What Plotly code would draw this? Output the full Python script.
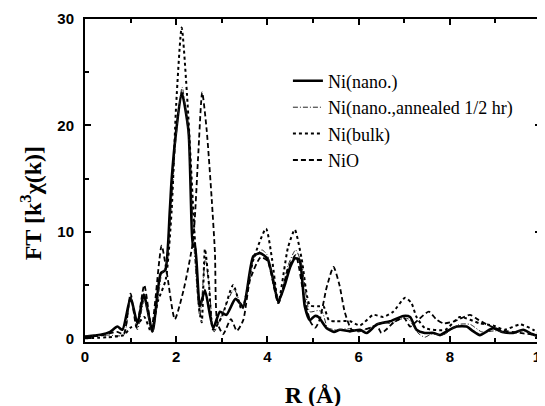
import plotly.graph_objects as go

# ---- data ----
nano_x = [0, 0.2, 0.34, 0.55, 0.71, 0.82, 1.0, 1.15, 1.29, 1.48, 1.66, 1.76, 1.86, 1.9, 2.0, 2.12,
          2.27, 2.37, 2.41, 2.52, 2.63, 2.81, 2.96, 3.1, 3.3, 3.47, 3.69, 3.84, 4.0, 4.1, 4.24,
          4.38, 4.5, 4.6, 4.7, 4.82, 4.93, 5.04, 5.12, 5.3, 5.46, 5.59, 5.81, 6.03, 6.18, 6.4,
          6.69, 6.98, 7.13, 7.27, 7.45, 7.64, 7.79, 7.93, 8.15, 8.37, 8.5, 8.66, 8.95, 9.15,
          9.39, 9.61, 9.8, 9.94, 10]
nano_y = [0.15, 0.25, 0.33, 0.6, 1.1, 0.8, 3.8, 1.4, 4.1, 0.65, 6.1, 6.4, 12.0, 14.9, 19.5, 23.1,
          19.5, 8.6, 8.9, 3.0, 4.5, 0.95, 2.5, 2.2, 3.7, 3.0, 7.7, 8.0, 7.5, 6.0, 3.45,
          5.0, 6.7, 7.5, 7.4, 3.0, 1.7, 2.1, 2.0, 0.95, 0.6, 0.8, 0.65, 0.8, 0.5, 1.3,
          1.6, 2.1, 2.0, 0.8, 0.5, 0.5, 0.3, 0.65, 1.1, 1.1, 0.7, 0.3, 0.95, 0.6,
          0.5, 0.8, 0.4, 0.2, 0.15]

anneal_x = [0, 0.5, 0.85, 1.0, 1.15, 1.3, 1.48, 1.68, 1.78, 1.9, 2.0, 2.13, 2.27, 2.4, 2.52,
            2.64, 2.72, 2.83, 3.0, 3.27, 3.45, 3.7, 3.88, 4.0, 4.24, 4.45, 4.62, 4.75, 4.93,
            5.1, 5.2, 5.32, 5.5, 5.8, 6.0, 6.3, 6.5, 6.7, 7.0, 7.1, 7.3, 7.45, 7.6, 7.85,
            8.2, 8.45, 8.7, 9.0, 9.3, 9.6, 9.85, 10]
anneal_y = [0.2, 0.3, 0.3, 4.0, 0.8, 3.6, 0.5, 6.0, 6.8, 13.0, 19.0, 23.6, 19.0, 8.0, 2.0,
            7.5, 5.0, 0.6, 2.2, 4.6, 2.9, 7.5, 8.3, 7.8, 3.2, 6.8, 8.3, 7.0, 2.5,
            2.6, 2.5, 1.0, 0.8, 0.9, 0.6, 1.1, 1.5, 1.4, 1.9, 1.8, 0.5, 0.1, 0.4, 0.3,
            1.3, 1.3, 0.6, 0.7, 0.5, 0.7, 0.3, 0.1]

bulk_x = [0, 0.5, 0.85, 1.0, 1.15, 1.3, 1.45, 1.6, 1.77, 1.9, 2.0, 2.12, 2.25, 2.4, 2.5, 2.56,
          2.63, 2.72, 2.81, 3.0, 3.25, 3.44, 3.7, 3.97, 4.1, 4.24, 4.45, 4.6, 4.75, 4.93, 5.1,
          5.23, 5.35, 5.52, 5.81, 6.03, 6.32, 6.54, 6.76, 7.02, 7.16, 7.27, 7.46, 7.9, 8.22,
          8.66, 8.95, 9.2, 9.54, 9.83, 10]
bulk_y = [0.0, 0.1, 0.3, 1.0, 1.3, 2.0, 0.6, 3.5, 5.5, 12.0, 22.0, 29.2, 22.0, 10.0, 3.0, 1.5,
          8.4, 5.0, 0.8, 2.0, 5.0, 2.7, 7.5, 10.3, 7.5, 3.4, 8.5, 10.2, 7.5, 3.1, 3.0,
          3.0, 1.7, 1.6, 1.6, 1.2, 2.2, 2.0, 2.5, 3.8, 3.3, 2.0, 0.95, 0.8, 2.0,
          1.4, 1.2, 0.8, 1.3, 0.8, 0.3]

nio_x = [0, 0.4, 0.7, 0.85, 1.0, 1.13, 1.3, 1.46, 1.68, 1.8, 1.97, 2.16, 2.37, 2.48, 2.57,
         2.67, 2.78, 2.85, 2.9, 3.03, 3.2, 3.33, 3.47, 3.62, 3.85, 4.0, 4.24, 4.45, 4.62, 4.8,
         4.95, 5.05, 5.15, 5.3, 5.45, 5.58, 5.7, 5.85, 6.0, 6.2, 6.4, 6.5, 6.6, 6.8, 7.0,
         7.13, 7.3, 7.54, 7.7, 7.86, 8.1, 8.44, 8.6, 8.81, 9.1, 9.54, 9.9, 10]
nio_y = [0.1, 0.3, 0.6, 0.4, 4.2, 1.0, 5.0, 1.0, 8.7, 6.0, 1.8, 4.5, 9.2, 17.0, 23.1,
         19.5, 13.0, 8.0, 1.5, 0.4, 1.8, 0.7, 1.7, 5.5, 7.6, 7.3, 3.3, 6.5, 7.8, 4.0,
         1.5, 1.0, 1.8, 4.8, 6.7, 5.0, 2.4, 0.8, 0.7, 0.9, 1.2, 0.5, 0.8, 1.6, 1.9,
         1.1, 1.7, 2.5, 1.8, 1.4, 1.6, 2.2, 1.8, 1.3, 0.8, 0.5, 0.3, 0.2]

x_ticks = [0, 2, 4, 6, 8, 10]
x_minor = [1, 3, 5, 7, 9]
y_ticks = [0, 10, 20, 30]
y_minor = [5, 15, 25]
x_range = [0, 10]
y_range = [-0.35, 30]

series = [
    ("Ni(nano.)", nano_x, nano_y, dict(color="black", width=2.6, dash="solid")),
    ("Ni(nano.,annealed 1/2 hr)", anneal_x, anneal_y, dict(color="#222", width=1, dash="5px,2px,1px,2px")),
    ("Ni(bulk)", bulk_x, bulk_y, dict(color="black", width=2, dash="dot")),
    ("NiO", nio_x, nio_y, dict(color="black", width=1.8, dash="5px,3px")),
]

fig = go.Figure()
for name, xs, ys, ln in series:
    fig.add_trace(go.Scatter(x=xs, y=ys, mode="lines", name=name,
                             line=dict(shape="spline", smoothing=0.6, **ln)))

tickfont = dict(family="Liberation Sans", size=15, color="black", weight="bold")
axis_common = dict(showline=True, linecolor="black", linewidth=2, mirror="ticks",
                   ticks="inside", ticklen=6, tickwidth=1.5, tickcolor="black",
                   showgrid=False, zeroline=False, ticklabeloverflow="allow",
                   tickfont=tickfont)

fig.update_layout(
    xaxis=dict(range=x_range, tickvals=x_ticks, ticktext=[str(v) for v in x_ticks],
               minor=dict(tickvals=x_minor, ticks="inside", ticklen=4, tickcolor="black", tickwidth=1.5),
               title=dict(text="R (Å)", standoff=22,
                          font=dict(family="Liberation Serif", size=24, color="black", weight="bold")),
               **axis_common),
    yaxis=dict(range=y_range, tickvals=y_ticks, ticktext=[str(v) for v in y_ticks],
               minor=dict(tickvals=y_minor, ticks="inside", ticklen=4, tickcolor="black", tickwidth=1.5),
               ticklabelstandoff=6, **axis_common),
)

# y-axis title placed a bit below the axis centre, as in the reference
fig.add_annotation(text="FT [k<sup>3</sup>χ(k)]", textangle=-90, showarrow=False,
                   xref="paper", yref="paper", x=-0.118, y=0.43,
                   xanchor="center", yanchor="middle",
                   font=dict(family="Liberation Serif", size=24, color="black", weight="bold"))

# page body has an 8px margin, so the plot box is placed 8px up/left of the target spots
fig.update_layout(
    width=545, height=406,
    margin=dict(l=77, r=12, t=11, b=72, autoexpand=False),
    paper_bgcolor="white", plot_bgcolor="white",
    showlegend=True,
    legend=dict(x=0.445, y=0.865, xanchor="left", yanchor="top",
                bgcolor="rgba(0,0,0,0)", borderwidth=0,
                font=dict(family="Liberation Serif", size=18, color="black"),
                tracegroupgap=0, itemwidth=30),
)

fig.write_html("out.html")
